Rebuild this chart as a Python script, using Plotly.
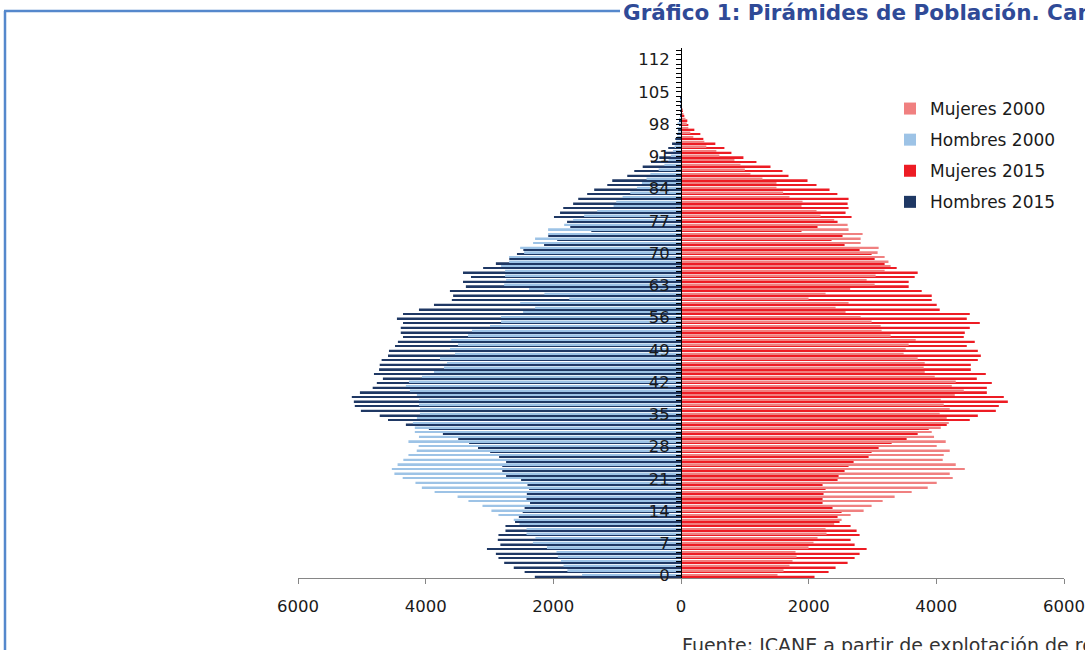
import plotly.graph_objects as go

ages = list(range(0, 115))
tick_ages = list(range(0, 113, 7))

hombres_2015 = [2290, 2450, 2620, 2770, 2860, 2900, 3040, 2830, 2870, 2860,
                2750, 2750, 2600, 2540, 2480, 2450, 2365, 2420, 2415, 2380,
                2405, 2505, 2740, 2800, 2800, 2740, 2850, 2990, 3180, 3320,
                3490, 3730, 3950, 4310, 4590, 4720, 5015, 5110, 5125, 5157,
                5030, 4830, 4765, 4670, 4810, 4730, 4720, 4690, 4590, 4575,
                4480, 4435, 4355, 4390, 4390, 4355, 4450, 4355, 4105, 3870,
                3590, 3570, 3620, 3370, 3415, 3290, 3415, 3100, 2900, 2690,
                2570, 2470, 2145, 1940, 2080, 1405, 1735, 1785, 1990, 1895,
                1845, 1690, 1610, 1470, 1360, 1155, 1077, 842, 732, 600,
                470, 340, 250, 200, 140, 90, 65, 45, 30, 20,
                12, 8, 5, 3, 2, 0, 0, 0, 0, 0,
                0, 0, 0, 0, 0]

hombres_2000 = [1550, 1780, 1840, 1880, 1930, 1950, 2100, 2320, 2280, 2420,
                2420, 2530, 2620, 2860, 2970, 3110, 3330, 3500, 3860, 4060,
                4160, 4360, 4490, 4530, 4440, 4350, 4270, 4140, 4110, 4270,
                4105, 4170, 4170, 4200, 4137, 4090, 4090, 4105, 4105, 4137,
                4247, 4310, 4262, 4058, 3870, 3713, 3666, 3776, 3540, 3619,
                3494, 3600, 3337, 3274, 2992, 2819, 2819, 2474, 2286, 2520,
                1750, 2140, 2380, 2770, 2740, 2756, 2756, 2819, 2693, 2693,
                2458, 2520, 2317, 2286, 2082, 2082, 1830, 1690, 1517, 1313,
                1056, 1015, 915, 795, 690, 612, 540, 481, 350, 260,
                194, 160, 125, 100, 80, 60, 50, 60, 55, 30,
                15, 8, 5, 3, 0, 0, 0, 0, 0, 0,
                0, 0, 0, 0, 0]

mujeres_2015 = [2092, 2312, 2422, 2610, 2720, 2798, 2908, 2720, 2657, 2798,
                2751, 2657, 2484, 2453, 2516, 2374, 2218, 2218, 2233, 2265,
                2218, 2453, 2469, 2563, 2625, 2704, 2939, 2986, 3096, 3300,
                3535, 3708, 3881, 4163, 4524, 4650, 4932, 4979, 5120, 5057,
                4791, 4791, 4869, 4634, 4775, 4540, 4540, 4650, 4697, 4650,
                4477, 4602, 4430, 4446, 4524, 4681, 4477, 4524, 4053, 4006,
                3928, 3928, 3771, 3567, 3567, 3661, 3708, 3379, 3190, 3034,
                2986, 2798, 2563, 2359, 2531, 1888, 2139, 2453, 2672, 2578,
                2625, 2610, 2625, 2450, 2327, 2123, 1982, 1684, 1590, 1402,
                1182, 978, 790, 680, 538, 350, 303, 209, 115, 99,
                52, 25, 15, 15, 5, 0, 0, 0, 0, 0,
                0, 0, 0, 0, 0]

mujeres_2000 = [1512, 1606, 1700, 1747, 1810, 1794, 1998, 2076, 2139, 2280,
                2265, 2400, 2516, 2657, 2861, 2986, 3159, 3347, 3614, 3865,
                4006, 4257, 4210, 4446, 4304, 4100, 4116, 4210, 4006, 4147,
                3964, 3928, 4069, 4195, 4163, 4053, 4210, 4116, 4069, 4289,
                4430, 4242, 4304, 3975, 3818, 3802, 3818, 3708, 3488, 3520,
                3567, 3677, 3284, 3143, 3128, 2986, 2814, 2578, 2422, 2625,
                1998, 2265, 2650, 3034, 2908, 3049, 3190, 3284, 3250, 3190,
                3080, 3096, 2814, 2814, 2845, 2625, 2610, 2400, 2186, 2123,
                1888, 1904, 1700, 1600, 1496, 1496, 1276, 1088, 1000, 931,
                837, 601, 554, 397, 366, 193, 146, 115, 90, 70,
                40, 20, 10, 5, 0, 0, 0, 0, 0, 0,
                0, 0, 0, 0, 0]

x_ticks = [-6000, -4000, -2000, 0, 2000, 4000, 6000]

C_M00 = "#F08080"
C_H00 = "#9DC3E6"
C_M15 = "#ED1C24"
C_H15 = "#1F3864"

FONT = "DejaVu Sans"

fig = go.Figure()
fig.add_trace(go.Bar(y=ages, x=mujeres_2015, orientation="h", name="Mujeres 2015",
                     marker=dict(color=C_M15, line=dict(width=0)), offsetgroup="g15",
                     legendrank=3, legendgroup="c"))
fig.add_trace(go.Bar(y=ages, x=[-v for v in hombres_2015], orientation="h", name="Hombres 2015",
                     marker=dict(color=C_H15, line=dict(width=0)), offsetgroup="g15",
                     legendrank=4, legendgroup="d"))
fig.add_trace(go.Bar(y=ages, x=mujeres_2000, orientation="h", name="Mujeres 2000",
                     marker=dict(color=C_M00, line=dict(width=0)), offsetgroup="g00",
                     legendrank=1, legendgroup="a"))
fig.add_trace(go.Bar(y=ages, x=[-v for v in hombres_2000], orientation="h", name="Hombres 2000",
                     marker=dict(color=C_H00, line=dict(width=0)), offsetgroup="g00",
                     legendrank=2, legendgroup="b"))

L, R, T, B = 298, 21, 48, 72
W, H = 1085, 650
pw = W - L - R
ph = H - T - B


def px(x):
    return (x - L) / pw


def py(y):
    return (H - B - y) / ph


fig.update_layout(
    width=W, height=H,
    margin=dict(l=L, r=R, t=T, b=B, pad=0, autoexpand=False),
    paper_bgcolor="white", plot_bgcolor="white",
    barmode="group", bargap=0.25, bargroupgap=0.0,
    font=dict(family=FONT, size=16, color="#1a1a1a"),
    showlegend=True,
    legend=dict(x=px(890), y=py(91), xanchor="left", yanchor="top",
                traceorder="grouped", tracegroupgap=6,
                font=dict(family=FONT, size=17, color="#1a1a1a"),
                bgcolor="rgba(0,0,0,0)", itemclick=False),
    xaxis=dict(range=[-6000, 6000], tickmode="array", tickvals=x_ticks,
               ticktext=[str(abs(v)) for v in x_ticks], automargin=False,
               showgrid=False, zeroline=False, showline=True,
               linecolor="#868686", linewidth=1, ticks="outside", ticklen=5,
               tickcolor="#868686", ticklabelstandoff=8,
               tickfont=dict(family=FONT, size=16.5, color="#1a1a1a")),
    yaxis=dict(range=[-0.5, 114.5], tickmode="array", tickvals=ages,
               ticktext=[str(a) if a in tick_ages else "" for a in ages],
               anchor="free", position=0.5, side="left", automargin=False,
               showgrid=False, zeroline=False, showline=True,
               linecolor="black", linewidth=1, ticks="outside", ticklen=5,
               tickcolor="black", tickwidth=1, ticklabelstandoff=3,
               tickfont=dict(family=FONT, size=16.5, color="#1a1a1a")),
)

frame_color = "#5588CC"
fig.add_shape(type="line", xref="paper", yref="paper",
              x0=px(4), x1=px(620), y0=py(11), y1=py(11),
              line=dict(color=frame_color, width=2.5))
fig.add_shape(type="line", xref="paper", yref="paper",
              x0=px(5), x1=px(5), y0=py(11), y1=py(660),
              line=dict(color=frame_color, width=2.5))

fig.add_annotation(xref="paper", yref="paper", x=px(621), y=py(12),
                   xanchor="left", yanchor="middle", showarrow=False,
                   text="<b>Gráfico 1: Pirámides de Población. Cantabria</b>",
                   font=dict(family=FONT, size=21.5, color="#2F4A97"))
fig.add_annotation(xref="paper", yref="paper", x=px(680), y=py(645),
                   xanchor="left", yanchor="middle", showarrow=False,
                   text="Fuente: ICANE a partir de explotación de registros",
                   font=dict(family=FONT, size=19, color="#333333"))

fig.write_html("out.html", config={"displayModeBar": False},
               post_script="document.body.style.margin='0';document.body.style.overflow='hidden';")
